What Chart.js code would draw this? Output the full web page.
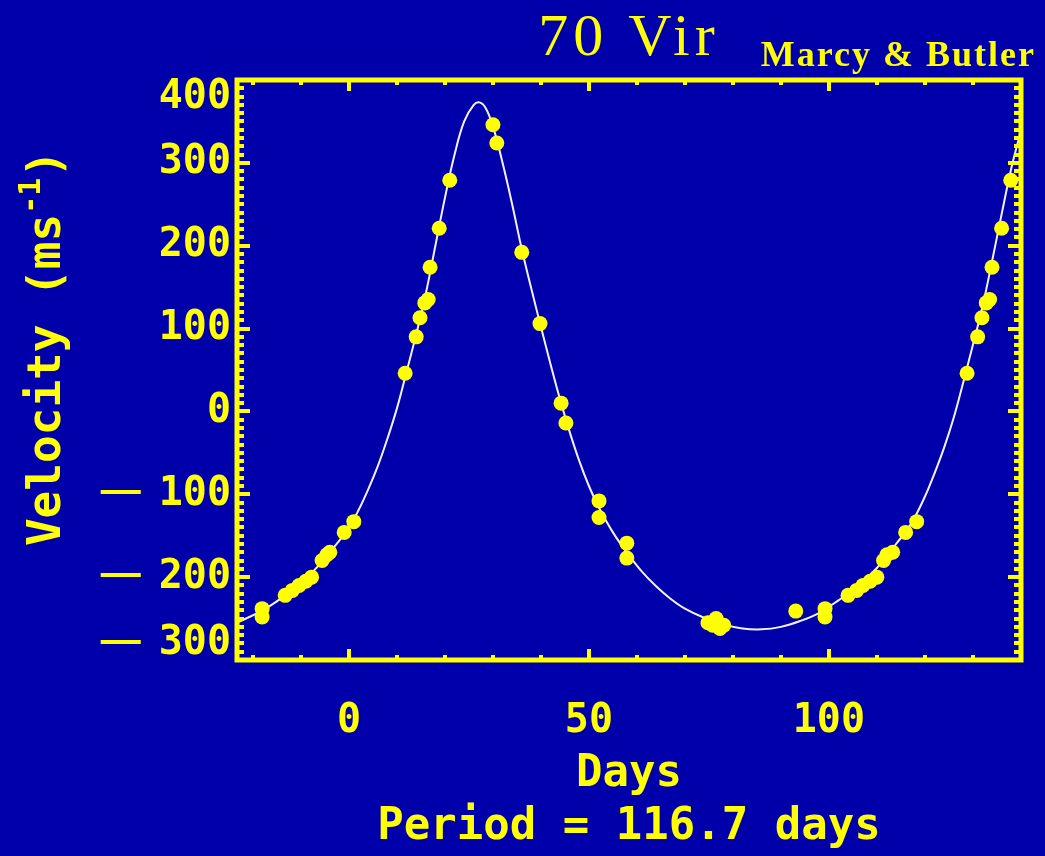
<!DOCTYPE html>
<html>
<head>
<meta charset="utf-8">
<title>70 Vir</title>
<script src="https://cdn.jsdelivr.net/npm/chart.js@4.4.0/dist/chart.umd.min.js"></script>
<style>
  html, body { margin: 0; padding: 0; background: #0000aa; }
  #wrap { width: 1045px; height: 856px; position: relative; }
</style>
</head>
<body>
<div id="wrap"><canvas id="rvChart"></canvas></div>
<script>
// text
const starName = "70 Vir";
const credit = "Marcy & Butler";
const xTitle = "Days";
const yTitle = "Velocity (ms";
const ySup = "-1";
const footer = "Period = 116.7 days";

// axes
const xRange = [-23.34, 140.04];
const yRange = [-300, 400];
const xTickValues = [0, 50, 100];
const xTickLabels = ["0", "50", "100"];
const yTickValues = [-300, -200, -100, 0, 100, 200, 300, 400];
const yTickLabels = ["\u2212300", "\u2212200", "\u2212100", "0", "100", "200", "300", "400"];

// observed radial velocities (phase-folded)
const obsDays = [-18.1, -18.1, -13.3, -11.8, -10.4, -9.0, -7.8, -5.6, -4.6, -4.0, -1.0, 1.0,
  11.7, 14.0, 14.8, 15.8, 16.5, 16.9, 18.8, 21.0,
  30.0, 30.8, 36.0, 39.8, 44.2, 45.2, 52.1, 52.1, 57.9, 57.9,
  74.8, 75.8, 76.5, 77.3, 78.1, 93.1,
  99.2, 99.2, 104.0, 105.8, 107.1, 108.6, 110.0, 111.4, 112.1, 113.3, 116.0, 118.3,
  128.8, 131.0, 131.9, 132.8, 133.5, 134.0, 136.0, 137.9];
const obsVel = [-238, -248, -222, -216, -210, -205, -200, -180, -173, -170, -146, -133,
  46, 90, 113, 131, 135, 174, 221, 279,
  346, 324, 192, 106, 10, -14, -108, -128, -159, -177,
  -255, -258, -250, -262, -258, -241,
  -238, -248, -222, -216, -210, -205, -200, -180, -173, -170, -146, -133,
  46, 90, 113, 131, 135, 174, 221, 279];

// orbital fit curve
const fitDays = [-23.3, -18, -14, -10, -6, -3, 0, 2, 4, 6, 8, 10, 12, 14, 16, 18, 20, 22, 24, 26, 27.2,
  28.5, 30, 32, 34, 36, 38, 40, 42, 44, 46, 48, 50, 52, 55, 58, 61, 64, 67, 70, 74, 78, 82, 86, 90,
  94, 98, 102, 106, 110, 114, 117, 120, 122, 124, 126, 128, 130, 132, 134, 136, 138, 140];
const fitVel = [-255, -240, -225, -207, -184, -163, -140, -119, -94, -66, -33, 4, 48, 93, 142, 200, 258, 310, 350, 370, 373,
  366, 344, 300, 250, 196, 148, 102, 57, 14, -25, -60, -90, -115, -146, -171, -193, -211, -226, -238, -249, -257, -262, -263, -260,
  -253, -243, -228, -211, -189, -160, -137, -103, -75, -44, -8, 35, 80, 126, 181, 238, 293, 338];

const yellow = "#ffff00";
const monoFont = "'DejaVu Sans Mono', monospace";

// frame, inward ticks and all labels, IDL style
const idlFrame = {
  id: "idlFrame",
  afterDraw(chart) {
    const ctx = chart.ctx;
    const { left, right, top, bottom } = chart.chartArea;
    const xs = chart.scales.x, ys = chart.scales.y;
    ctx.save();
    ctx.fillStyle = yellow;
    ctx.strokeStyle = yellow;

    // x ticks every 10 days, top and bottom
    for (let d = -20; d <= 140; d += 10) {
      const px = Math.round(xs.getPixelForValue(d));
      const len = d % 50 === 0 ? 11 : 5;
      ctx.fillRect(px - 2, bottom - len, 4, len);
      ctx.fillRect(px - 2, top, 4, len);
    }
    // y ticks every 10 m/s, left and right
    for (let v = yRange[0]; v <= yRange[1]; v += 10) {
      const py = Math.round(ys.getPixelForValue(v));
      const len = v % 100 === 0 ? 13 : 7;
      ctx.fillRect(left, py - 2, len, 4);
      ctx.fillRect(right - len, py - 2, len, 4);
    }
    ctx.lineWidth = 5;
    ctx.strokeRect(left, top, right - left, bottom - top);

    // tick labels
    ctx.font = "bold 40px " + monoFont;
    ctx.textAlign = "center";
    ctx.textBaseline = "alphabetic";
    xTickValues.forEach((v, i) => {
      ctx.fillText(xTickLabels[i], xs.getPixelForValue(v), bottom + 72);
    });
    ctx.textAlign = "right";
    ctx.textBaseline = "middle";
    yTickValues.forEach((v, i) => {
      let py = ys.getPixelForValue(v);
      py = Math.min(Math.max(py, top + 18), bottom - 16);
      const lab = yTickLabels[i];
      if (lab.startsWith("\u2212")) {
        // wide IDL-style minus: digits in mono, the sign as a long dash
        const digits = lab.slice(1);
        ctx.font = "bold 40px " + monoFont;
        ctx.fillText(digits, left - 6, py);
        const dw = ctx.measureText(digits).width;
        ctx.font = "bold 40px 'Liberation Sans', sans-serif";
        ctx.fillText("\u2014", left - 6 - dw - 18, py - 2);
        ctx.font = "bold 40px " + monoFont;
      } else {
        ctx.fillText(lab, left - 6, py);
      }
    });

    // axis titles
    const cx = (left + right) / 2;
    ctx.textAlign = "center";
    ctx.textBaseline = "alphabetic";
    ctx.font = "bold 44px " + monoFont;
    ctx.fillText(xTitle, cx, 786);
    ctx.fillText(footer, cx, 839);

    // rotated y title with superscript
    ctx.save();
    ctx.translate(60, 348);
    ctx.rotate(-Math.PI / 2);
    ctx.font = "bold 46px " + monoFont;
    const w1 = ctx.measureText(yTitle).width;
    ctx.font = "bold 30px " + monoFont;
    const w2 = ctx.measureText(ySup).width;
    ctx.font = "bold 46px " + monoFont;
    const w3 = ctx.measureText(")").width;
    let tx = -(w1 + w2 + w3) / 2;
    ctx.textAlign = "left";
    ctx.fillText(yTitle, tx, 0);
    tx += w1;
    ctx.font = "bold 30px " + monoFont;
    ctx.fillText(ySup, tx, -20);
    tx += w2;
    ctx.font = "bold 46px " + monoFont;
    ctx.fillText(")", tx, 0);
    ctx.restore();

    // title and credit
    ctx.textAlign = "center";
    ctx.font = "60px 'Liberation Serif', serif";
    ctx.letterSpacing = "5px";
    ctx.fillText(starName, cx, 55);
    ctx.textAlign = "right";
    ctx.font = "bold 36px 'Liberation Serif', serif";
    ctx.letterSpacing = "2px";
    ctx.fillText(credit, 1036, 66);
    ctx.restore();
  }
};

new Chart(document.getElementById("rvChart"), {
  type: "scatter",
  data: {
    datasets: [
      {
        label: "Fit",
        type: "line",
        data: fitDays.map((d, i) => ({ x: d, y: fitVel[i] })),
        borderColor: "#f2f2ff",
        borderWidth: 2,
        pointRadius: 0,
        tension: 0.4,
        fill: false,
        order: 2
      },
      {
        label: "Observed",
        data: obsDays.map((d, i) => ({ x: d, y: obsVel[i] })),
        backgroundColor: yellow,
        borderWidth: 0,
        pointRadius: 7.5,
        order: 1
      }
    ]
  },
  options: {
    responsive: true,
    maintainAspectRatio: false,
    animation: false,
    layout: { padding: { left: 237, right: 24, top: 80, bottom: 196 } },
    plugins: { legend: { display: false }, tooltip: { enabled: false }, title: { display: false } },
    scales: {
      x: { type: "linear", min: xRange[0], max: xRange[1], display: false },
      y: { type: "linear", min: yRange[0], max: yRange[1], display: false }
    }
  },
  plugins: [idlFrame]
});
</script>
</body>
</html>
